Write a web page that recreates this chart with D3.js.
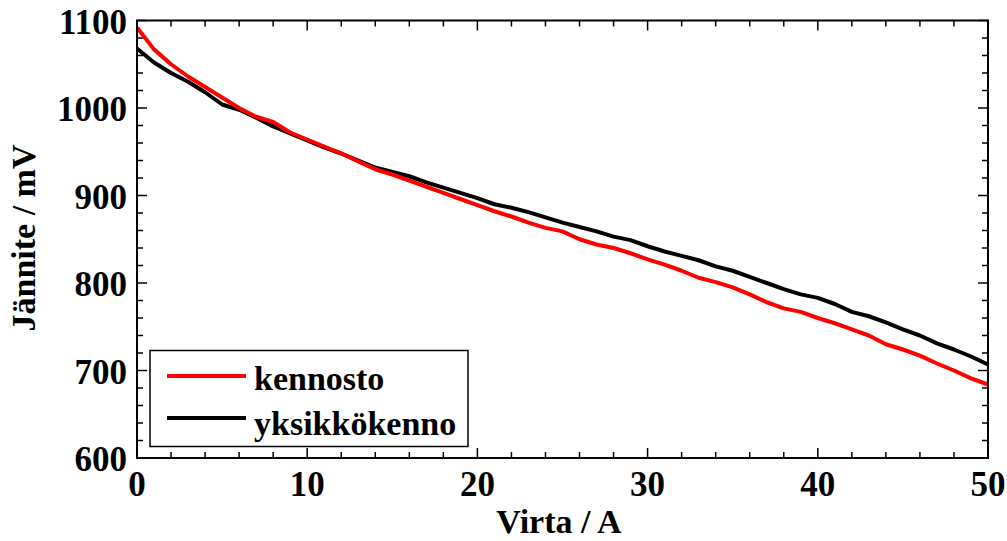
<!DOCTYPE html>
<html><head><meta charset="utf-8">
<script src="https://cdn.jsdelivr.net/npm/d3@7"></script>
<style>body{margin:0;background:#fff}svg{display:block}text{font-family:"Liberation Serif","Times New Roman",serif;font-weight:bold;fill:#000}</style>
</head><body>
<script>
const current = d3.range(0, 51);
const kennosto = [1092,1067,1050,1036,1024,1012,1000,990,984,972,964,956,948,939,930,924,917,910,903,896,889,882,876,869,863,859,850,844,840,834,827,821,814,806,801,795,787,778,771,767,760,754,747,740,730,724,717,708,700,691,684];
const yksikkokenno = [1068,1052,1040,1030,1018,1004,998,989,979,971,963,955,948,940,932,927,922,915,909,903,897,890,886,881,875,869,864,859,853,849,842,836,831,826,819,814,807,800,793,787,783,776,767,762,755,747,740,731,724,716,707];
const seriesNames = ["kennosto", "yksikkökenno"];
const seriesColors = ["#ff0000", "#000000"];
const xTicks = [0,10,20,30,40,50];
const yTicks = [600,700,800,900,1000,1100];
const xLabel = "Virta / A", yLabel = "Jännite / mV";

const W = 1007, H = 541;
const m = {l:137, r:988, t:20.5, b:458};
const svg = d3.select("body").append("svg").attr("width", W).attr("height", H);
const x = d3.scaleLinear().domain([0,50]).range([m.l, m.r]);
const y = d3.scaleLinear().domain([600,1100]).range([m.b, m.t]);

const fs = 35;
const g = svg.append("g");
const xMinor = d3.range(0, 51, 2).filter(v => v % 10 !== 0);
const yMinor = d3.range(600, 1101, 20).filter(v => v % 100 !== 0);
function tickLines(vals, len, isX) {
  vals.forEach(v => {
    if (isX) {
      g.append("line").attr("x1", x(v)).attr("x2", x(v)).attr("y1", m.b).attr("y2", m.b - len).attr("stroke", "#000").attr("stroke-width", 1.5);
      g.append("line").attr("x1", x(v)).attr("x2", x(v)).attr("y1", m.t).attr("y2", m.t + len).attr("stroke", "#000").attr("stroke-width", 1.5);
    } else {
      g.append("line").attr("y1", y(v)).attr("y2", y(v)).attr("x1", m.l).attr("x2", m.l + len).attr("stroke", "#000").attr("stroke-width", 1.5);
      g.append("line").attr("y1", y(v)).attr("y2", y(v)).attr("x1", m.r).attr("x2", m.r - len).attr("stroke", "#000").attr("stroke-width", 1.5);
    }
  });
}
tickLines(xMinor, 6, true);
tickLines(xTicks, 10, true);
tickLines(yMinor, 6, false);
tickLines(yTicks, 10, false);

const line = d3.line().x((d,i) => x(current[i])).y(d => y(d));
svg.append("clipPath").attr("id","c").append("rect").attr("x",m.l).attr("y",m.t).attr("width",m.r-m.l).attr("height",m.b-m.t);
[[yksikkokenno, 1], [kennosto, 0]].forEach(([s, idx]) => {
  svg.append("path").datum(s).attr("d", line).attr("fill","none").attr("stroke", seriesColors[idx]).attr("stroke-width", 4).attr("stroke-linejoin","round").attr("clip-path","url(#c)");
});

svg.append("rect").attr("x", m.l).attr("y", m.t).attr("width", m.r - m.l).attr("height", m.b - m.t).attr("fill","none").attr("stroke","#000").attr("stroke-width",2);

xTicks.forEach(v => svg.append("text").attr("x", x(v)).attr("y", m.b + 38).attr("text-anchor","middle").attr("font-size", fs).text(v));
yTicks.forEach(v => svg.append("text").attr("x", m.l - 10).attr("y", y(v) + 13).attr("text-anchor","end").attr("font-size", fs).text(v));

svg.append("text").attr("x", 559).attr("y", 533).attr("text-anchor","middle").attr("font-size", 34).text(xLabel);
svg.append("text").attr("transform", `translate(35,238) rotate(-90)`).attr("text-anchor","middle").attr("font-size", 34).text(yLabel);

svg.append("rect").attr("x",150).attr("y",350.5).attr("width",318).attr("height",96).attr("fill","#fff").attr("stroke","#000").attr("stroke-width",1.5);
seriesNames.forEach((n, i) => {
  const yy = i === 0 ? 376 : 418;
  svg.append("line").attr("x1",167).attr("x2",246).attr("y1",yy).attr("y2",yy).attr("stroke",seriesColors[i]).attr("stroke-width",4);
  svg.append("text").attr("x",254).attr("y",i === 0 ? 390 : 435).attr("font-size",34).text(n);
});
</script>
</body></html>
